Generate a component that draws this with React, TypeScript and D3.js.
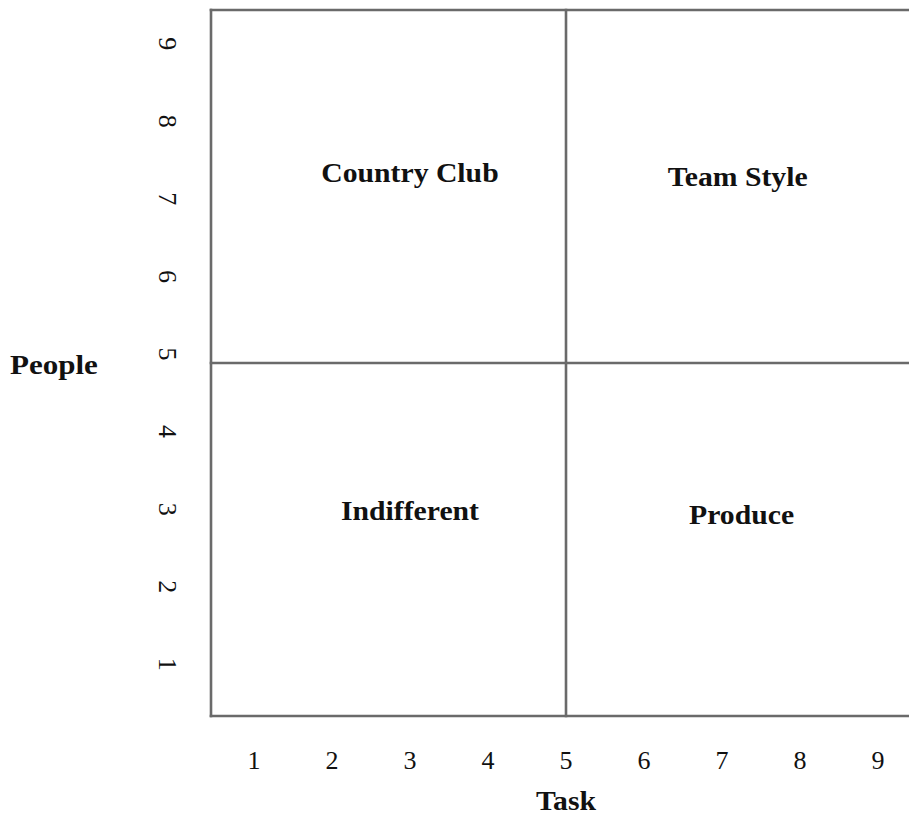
import React, { useEffect, useRef } from 'react';
import * as d3 from 'd3';

// Managerial grid: task (x) vs people (y), scored 1..9
const taskTicks = [1, 2, 3, 4, 5, 6, 7, 8, 9];
const peopleTicks = [1, 2, 3, 4, 5, 6, 7, 8, 9];
const gridExtent = [0.45, 9.55];
const midpoint = 5;

const quadrantNames = ['Country Club', 'Team Style', 'Indifferent', 'Produce'];
const quadrantTask = [3, 7.2, 3, 7.25];
const quadrantPeople = [7.45, 7.4, 3.1, 3.05];

const FONT = '"Times New Roman", "Liberation Serif", serif';
const LINE = '#6a6a6a';
const STRETCH = 1.1; // the source text is drawn slightly wide

const App = () => {
  const svgRef = useRef<SVGSVGElement>(null);

  useEffect(() => {
    const svg = d3.select(svgRef.current);
    svg.selectAll('*').remove();

    const x = d3.scaleLinear().domain(gridExtent).range([211, 921]);
    const y = d3.scaleLinear().domain(gridExtent).range([716, 10]);

    const g = svg.append('g');

    // frame (left, top, bottom) + the two dividers
    const segs = [
      [gridExtent[0], gridExtent[0], gridExtent[0], gridExtent[1]],
      [gridExtent[0], gridExtent[1], gridExtent[1], gridExtent[1]],
      [gridExtent[0], gridExtent[0], gridExtent[1], gridExtent[0]],
      [midpoint, gridExtent[0], midpoint, gridExtent[1]],
      [gridExtent[0], midpoint, gridExtent[1], midpoint],
    ];
    g.selectAll('line.seg')
      .data(segs)
      .enter()
      .append('line')
      .attr('class', 'seg')
      .attr('x1', (d) => x(d[0]))
      .attr('y1', (d) => y(d[1]))
      .attr('x2', (d) => x(d[2]))
      .attr('y2', (d) => y(d[3]))
      .attr('stroke', LINE)
      .attr('stroke-width', 2.6)
      .attr('stroke-linecap', 'square');

    // x tick labels
    g.selectAll('text.xt')
      .data(taskTicks)
      .enter()
      .append('text')
      .attr('class', 'xt')
      .attr('transform', (d) => `translate(${x(d)},769)`)
      .attr('text-anchor', 'middle')
      .style('font-family', FONT)
      .style('font-size', '26px')
      .style('fill', '#111')
      .text((d) => d);

    // y tick labels, turned clockwise
    g.selectAll('text.yt')
      .data(peopleTicks)
      .enter()
      .append('text')
      .attr('class', 'yt')
      .attr('transform', (d) => `translate(159,${y(d) - 9}) rotate(90)`)
      .attr('text-anchor', 'middle')
      .style('font-family', FONT)
      .style('font-size', '26px')
      .style('fill', '#111')
      .text((d) => d);

    // quadrant names
    g.selectAll('text.q')
      .data(quadrantNames)
      .enter()
      .append('text')
      .attr('class', 'q')
      .attr('transform', (d, i) => `translate(${x(quadrantTask[i])},${y(quadrantPeople[i])}) scale(${STRETCH},1)`)
      .attr('dy', '0.35em')
      .attr('text-anchor', 'middle')
      .style('font-family', FONT)
      .style('font-size', '27px')
      .style('font-weight', 'bold')
      .style('fill', '#111')
      .text((d) => d);

    // axis titles
    g.append('text')
      .attr('transform', `translate(${x(midpoint)},810) scale(${STRETCH},1)`)
      .attr('text-anchor', 'middle')
      .style('font-family', FONT)
      .style('font-size', '27px')
      .style('font-weight', 'bold')
      .style('fill', '#111')
      .text('Task');

    g.append('text')
      .attr('transform', `translate(10,374) scale(1.15,1)`)
      .style('font-family', FONT)
      .style('font-size', '27px')
      .style('font-weight', 'bold')
      .style('fill', '#111')
      .text('People');
  }, []);

  return (
    <svg
      ref={svgRef}
      width={909}
      height={836}
      style={{ position: 'absolute', left: 0, top: 0, background: '#fff' }}
    />
  );
};

export default App;
